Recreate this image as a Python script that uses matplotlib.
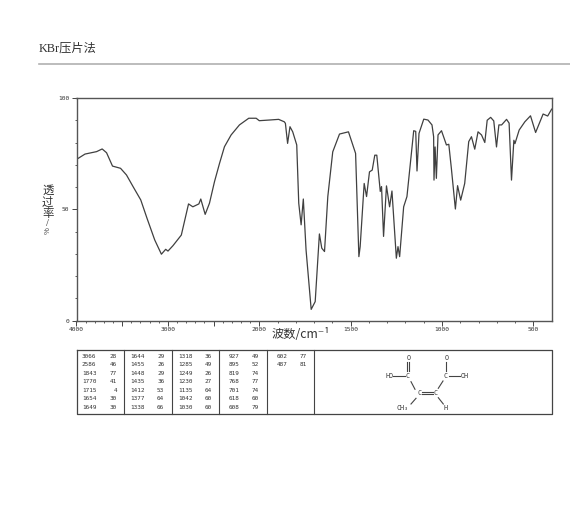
import numpy as np
import matplotlib
matplotlib.use('Agg')
import matplotlib.pyplot as plt

plt.rcParams['font.family'] = ['Noto Sans CJK SC', 'DejaVu Sans']

W, H = 570, 511

#Spectrum
wavenumber = [4000, 3907, 3780, 3719, 3671, 3606, 3518, 3453, 3380, 3297, 3228, 3144, 3071,
              3024, 2999, 2945, 2853, 2774, 2727, 2661, 2640, 2592, 2545, 2490, 2435, 2381,
              2308, 2217, 2115, 2034, 2000, 1945, 1894, 1863, 1857, 1845, 1832, 1817, 1795,
              1784, 1771, 1759, 1744, 1716, 1694, 1671, 1658, 1643, 1625, 1598, 1561, 1512,
              1473, 1455, 1448, 1426, 1413, 1397, 1382, 1368, 1357, 1338, 1331, 1320, 1304,
              1287, 1274, 1250, 1241, 1232, 1210, 1192, 1155, 1144, 1137, 1126, 1100, 1077,
              1055, 1046, 1044, 1038, 1031, 1022, 1003, 976, 963, 949, 927, 915, 898, 876,
              854, 839, 821, 803, 784, 766, 753, 734, 717, 702, 689, 674, 647, 633, 620, 607,
              601, 578, 547, 516, 488, 447, 422, 400]
transmittance = [72.4, 74.8, 75.9, 77.1, 75.4, 69.4, 68.4, 65.4, 60.1, 54.2, 45.9, 36.2, 29.8,
                 32, 31.2, 33.6, 38.4, 52.4, 51.1, 52.4, 54.6, 47.7, 52.7, 62.4, 70.6, 78.1,
                 83.4, 87.9, 90.9, 90.9, 89.8, 90.1, 90.4, 89.3, 88.6, 79.6, 87.1, 84.8, 78.9,
                 52.7, 43, 54.6, 31.7, 5, 8.5, 38.9, 32.5, 31, 55.7, 75.8, 83.8, 84.8,
                 75.1, 28.7, 33.2, 61.6, 55.7, 66.8, 67.6, 74.3, 74.3, 58, 60.2, 37.8, 60.5,
                 51.1, 58.2, 28, 33.2, 28.7, 51.1, 55.7, 85.3, 85, 67.2, 84.1, 90.5, 90.1,
                 87.9, 82.6, 63.1, 78, 63.9, 83.4, 85.3, 78.9, 79.2, 68.4, 50.1, 60.6, 54.1, 61.6,
                 80.4, 82.6, 77, 84.8, 83.4, 80, 90, 91.3, 89.7, 78, 87.9, 87.9, 90.4, 88.7, 63.1, 81,
                 79.5, 85.6, 89.3, 92, 84.5, 92.8, 91.9, 95]

x_major = [4000, 3500, 3000, 2500, 2000, 1500, 1000, 500]
x_labels = ['4000', '', '3000', '', '2000', '1500', '1000', '500']
y_major = [0, 50, 100]

#Peak table, one list per column
peak_cols = [
    [('3066', '28'), ('2586', '46'), ('1843', '77'), ('1770', '41'), ('1715', '4'), ('1654', '30'), ('1649', '30')],
    [('1644', '29'), ('1455', '26'), ('1448', '29'), ('1435', '36'), ('1412', '53'), ('1377', '64'), ('1338', '66')],
    [('1318', '36'), ('1285', '49'), ('1249', '26'), ('1230', '27'), ('1135', '64'), ('1042', '60'), ('1030', '60')],
    [('927', '49'), ('895', '52'), ('819', '74'), ('768', '77'), ('701', '74'), ('618', '60'), ('608', '79')],
    [('602', '77'), ('487', '81')],
]


def forward(x):
    # axis is compressed above 2000 cm-1
    x = np.asarray(x, dtype=float)
    return np.where(x >= 2000, 2000 + (x - 2000) * 0.5, x)


def inverse(u):
    u = np.asarray(u, dtype=float)
    return np.where(u >= 2000, 2000 + (u - 2000) * 2, u)


fig = plt.figure(figsize=(W / 100, H / 100), dpi=100)

# overlay in pixel coordinates for the page furniture
page = fig.add_axes([0, 0, 1, 1])
page.set_xlim(0, W)
page.set_ylim(H, 0)
page.axis('off')

ax = fig.add_axes([76.5 / W, 1 - 320.5 / H, (551.7 - 76.5) / W, (320.5 - 98) / H])
ax.set_xscale('function', functions=(forward, inverse))
ax.set_xlim(4000, 400)
ax.set_ylim(0, 100)
ax.plot(wavenumber, transmittance, color='#404040', lw=0.9)

for s in ax.spines.values():
    s.set_color('#555555')
    s.set_linewidth(1.0)

ax.set_xticks(x_major)
ax.set_xticklabels(x_labels, family='DejaVu Sans Mono', fontsize=4.5, color='#333333')
ax.set_xticks([v for v in range(3900, 400, -100) if v not in x_major], minor=True)
ax.xaxis.set_minor_formatter(plt.NullFormatter())
ax.set_yticks(y_major)
ax.set_yticklabels([str(v) for v in y_major], family='DejaVu Sans Mono', fontsize=4.5, color='#333333')
ax.set_yticks([v for v in range(10, 100, 10) if v != 50], minor=True)
ax.tick_params(axis='both', which='major', length=3.5, width=0.7, color='#444444', pad=1.5)
ax.tick_params(axis='both', which='minor', length=1.5, width=0.6, color='#444444')

# title and rule
page.text(39, 49, 'KBr压片法', fontsize=8.8, color='#333333', va='center', ha='left',
          family=['Liberation Serif', 'Noto Sans CJK SC'])
page.plot([39, 570], [64.5, 64.5], color='#b0b0b0', lw=1.2)

# axis titles, the y one stacked top to bottom
for y, s, rot, size in [(190, '透', 0, 8.2), (202, '过', 0, 8.2), (214, '率', 0, 8.2),
                        (223.5, '/', 0, 5.5), (231, '%', 90, 5.5)]:
    page.text(47.7, y, s, fontsize=size, color='#333333', rotation=rot, va='center', ha='center')
page.text(301, 334, '波数/cm⁻¹', fontsize=8.8, color='#333333', va='center', ha='center',
          family=['Noto Sans CJK SC', 'DejaVu Sans'])

# peak table
tbl_left, tbl_right, tbl_top, tbl_bottom = 76.7, 551.7, 350, 414
col_edges = [124.3, 171.7, 219.3, 266.7, 314]
row_y = [356, 364.3, 373.3, 381.7, 390, 398.3, 407.3]
num_x = [82, 130.5, 178, 229, 277]
val_x = [117, 164.3, 211.7, 259, 306.7]
page.plot([tbl_left, tbl_right, tbl_right, tbl_left, tbl_left],
          [tbl_top, tbl_top, tbl_bottom, tbl_bottom, tbl_top], color='#444444', lw=0.9)
for e in col_edges:
    page.plot([e, e], [tbl_top, tbl_bottom], color='#444444', lw=0.8)
for nx, vx, col in zip(num_x, val_x, peak_cols):
    for y, (wn, t) in zip(row_y, col):
        page.text(nx, y, wn, ha='left', va='center', family='DejaVu Sans Mono', fontsize=4.3, color='#333333')
        page.text(vx, y, t, ha='right', va='center', family='DejaVu Sans Mono', fontsize=4.3, color='#333333')

# structure of the acid
bonds = [((406.7, 371), (406.7, 361.7)), ((409, 371), (409, 361.7)),
         ((446, 371), (446, 361.7)), ((393.3, 376), (405, 376)), ((411, 381.7), (415, 389.3)),
         ((449.3, 376), (460, 376)), ((443, 381), (438.3, 388.3)),
         ((421.7, 391.7), (432.7, 391.7)), ((421.7, 393.7), (432.7, 393.7)),
         ((416, 398.3), (411, 404)), ((438.3, 397.7), (443.3, 404))]
for a, b in bonds:
    page.plot([a[0], b[0]], [a[1], b[1]], color='#444444', lw=0.8)
atoms = [(408.3, 358.3, 'O'), (446.7, 358.3, 'O'), (389.3, 376, 'HO'), (407.7, 376, 'C'), (446, 376, 'C'),
         (465, 376, 'OH'), (419, 392.7, 'C'), (435.3, 392.7, 'C'), (402.3, 408.3, 'CH₃'), (446, 408.3, 'H')]
for x, y, s in atoms:
    page.text(x, y, s, ha='center', va='center', family='DejaVu Sans Mono', fontsize=4.8, color='#333333')

fig.savefig('out.png', dpi=100)
